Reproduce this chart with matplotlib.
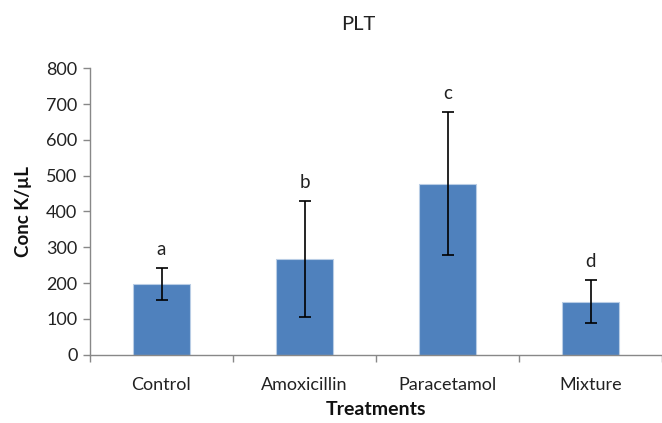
import matplotlib
matplotlib.use("Agg")
import matplotlib.pyplot as plt
import numpy as np

categories = ["Control", "Amoxicillin", "Paracetamol", "Mixture"]
means = [198, 266, 478, 148]
errors = [45, 162, 200, 60]
letters = ["a", "b", "c", "d"]
yticks = [0, 100, 200, 300, 400, 500, 600, 700, 800]

plt.rcParams['font.family'] = ['Lato', 'DejaVu Sans']

fig = plt.figure(figsize=(6.62, 4.23), dpi=100)
ax = fig.add_axes([90/662, 1-354.7/423, 1-90/662, (354.7-68.3)/423])

x = np.arange(len(categories))
ax.bar(x, means, width=0.4, color="#4F81BD", edgecolor="#B9CDE5", linewidth=0.8, zorder=2)
ax.errorbar(x, means, yerr=errors, fmt="none", ecolor="black", elinewidth=1.2,
            capsize=4.5, capthick=1.2, zorder=3)
for xi, m, e, l in zip(x, means, errors, letters):
    ax.text(xi, m + e + 52, l, ha="center", va="center", fontsize=13.5, color="#222222")

ax.set_xlim(-0.5, len(categories) - 0.5)
ax.set_ylim(0, 800)
ax.set_yticks(yticks)
ax.set_xticks(x)
ax.set_xticklabels(categories)
ax.set_xticks(np.arange(-0.5, len(categories), 1.0), minor=True)
ax.tick_params(axis="x", which="major", length=0, pad=16, labelsize=13, labelcolor="#222222")
ax.tick_params(axis="x", which="minor", length=5, width=1, color="#888888")
ax.tick_params(axis="y", length=5, width=1, color="#888888", labelsize=13, labelcolor="#222222", pad=4)

for s in ["top", "right"]:
    ax.spines[s].set_visible(False)
for s in ["left", "bottom"]:
    ax.spines[s].set_color("#888888")
    ax.spines[s].set_linewidth(1)

ax.set_ylabel("Conc K/µL", fontsize=13.5, fontweight="bold", labelpad=10, color="#111111")
ax.set_xlabel("Treatments", fontsize=14, fontweight="bold", labelpad=6, color="#111111")
fig.text(358/662, 1-25/423, "PLT", ha="center", va="center", fontsize=14.5, color="#222222")

fig.savefig("out.png", dpi=100)
